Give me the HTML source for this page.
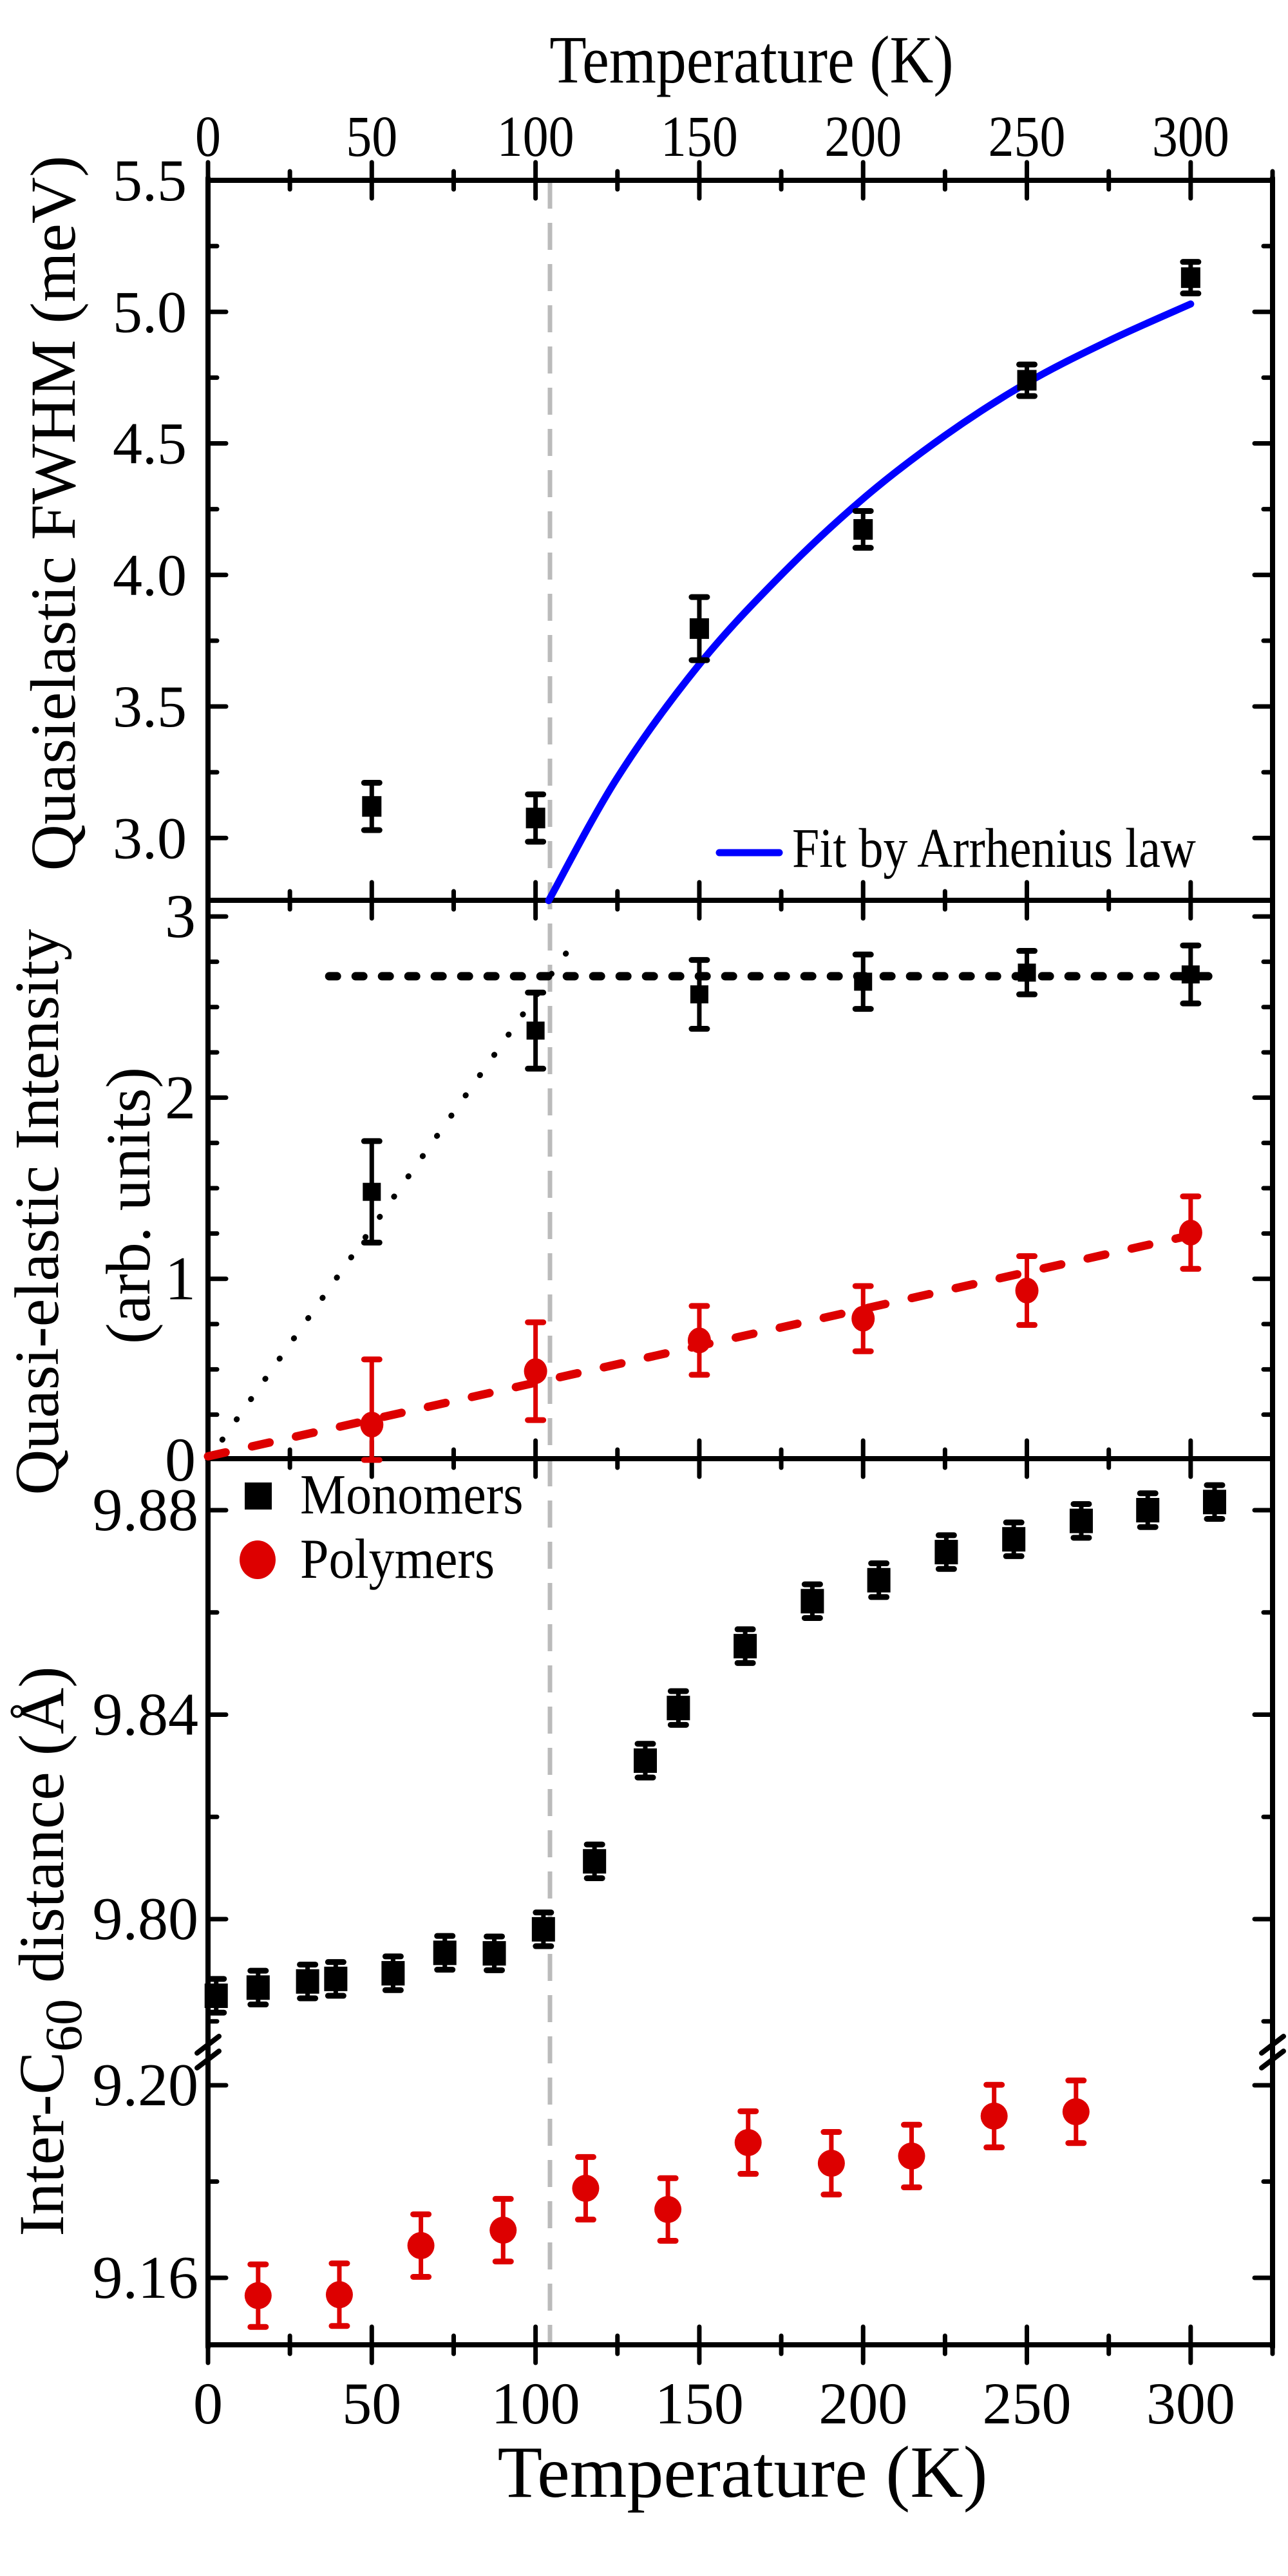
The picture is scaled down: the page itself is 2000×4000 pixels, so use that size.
<!DOCTYPE html>
<html><head><meta charset="utf-8"><style>
html,body{margin:0;padding:0;background:#fff;}
svg{display:block;}
text{font-family:"Liberation Serif","Times New Roman",serif;fill:#000;}
</style></head>
<body>
<svg id="chart" width="2000" height="4000" viewBox="0 0 2000 4000" font-family="Liberation Serif, serif" xmlns="http://www.w3.org/2000/svg"></svg>
<script>
// ---- data ----
const fwhmT = [50, 100, 150, 200, 250, 300];
const fwhmVal = [3.12, 3.076, 3.796, 4.173, 4.74, 5.13];
const fwhmErr = [0.09, 0.09, 0.12, 0.07, 0.06, 0.06];
const fitT = [104, 125, 150, 175, 200, 225, 250, 275, 300];
const fitVal = [2.762, 3.23, 3.66, 4.00, 4.29, 4.53, 4.73, 4.89, 5.03];
const qeT = [50, 100, 150, 200, 250, 300];
const qeMono = [1.48, 2.37, 2.57, 2.64, 2.69, 2.68];
const qeMonoErr = [0.28, 0.21, 0.19, 0.15, 0.12, 0.16];
const qePoly = [0.195, 0.49, 0.66, 0.78, 0.935, 1.255];
const qePolyErr = [0.36, 0.27, 0.19, 0.18, 0.19, 0.2];
const plateauLevel = 2.67, plateauT = [37, 306];
const riseLineT = [0, 111], riseLineV = [0, 2.84];
const polyLineT = [0, 300], polyLineV = [0.02, 1.24];
const monoT = [2.5, 15.3, 30.4, 39, 56.5, 72.3, 87.4, 102.4, 118, 133.5, 143.6, 164, 184.5, 204.8, 225.4, 246, 266.6, 286.9, 307.3];
const monoD = [9.785, 9.7866, 9.7878, 9.7883, 9.7894, 9.7934, 9.7933, 9.798, 9.8113, 9.831, 9.8413, 9.8534, 9.8622, 9.8663, 9.8718, 9.8743, 9.8779, 9.880, 9.8816];
const monoErr = 0.0033;
const polyT = [15.3, 40.1, 65, 90.1, 115.3, 140.4, 164.9, 190.3, 214.8, 240, 265];
const polyD = [9.1563, 9.1565, 9.1667, 9.1699, 9.1786, 9.1742, 9.1881, 9.1838, 9.1853, 9.1936, 9.1945];
const polyErr = 0.0065;
const xTicks = [0, 50, 100, 150, 200, 250, 300];
const y1Ticks = ["3.0", "3.5", "4.0", "4.5", "5.0", "5.5"];
const y2Ticks = ["0", "1", "2", "3"];
const y3UpTicks = ["9.80", "9.84", "9.88"];
const y3LoTicks = ["9.16", "9.20"];
const transitionT = 104.4;

// ---- geometry ----
const NS = "http://www.w3.org/2000/svg";
const svg = document.getElementById('chart');
const L = 323, R = 1976;
const X = t => L + t * (R - L) / 325;
const Y1 = v => 280 + (5.5 - v) * 408.5;
const Y2 = v => 2267 - v * 281.3;
const Y3u = v => 2345 + (9.88 - v) * 7937;
const Y3l = v => 3238 + (9.20 - v) * 7475;
function el(tag, attrs, parent) {
  const e = document.createElementNS(NS, tag);
  for (const k in attrs) e.setAttribute(k, attrs[k]);
  (parent || svg).appendChild(e);
  return e;
}
function txt(s, x, y, size, anchor, parent) {
  const t = el('text', {x: x, y: y, 'font-size': size, 'text-anchor': anchor || 'middle', 'font-family': 'Liberation Serif, Times New Roman, serif'}, parent);
  t.textContent = s;
  return t;
}
function line(x1, y1, x2, y2, w, col, parent) {
  return el('line', {x1: x1, y1: y1, x2: x2, y2: y2, stroke: col || '#000', 'stroke-width': w, 'stroke-linecap': 'round'}, parent);
}

// ---- dashed transition line ----
const vline = el('line', {x1: X(transitionT), y1: 282, x2: X(transitionT), y2: 3640, stroke: '#bbb', 'stroke-width': 7, 'stroke-dasharray': '42 22'});



// ---- axes ----
const gAx = el('g', {});


[280, 1398, 2265, 3641].forEach(yy => {
  for (let t = 0; t <= 325; t += 25) {
    const maj = t % 50 === 0;
    const h = maj ? 28 : 14;
    line(X(t), yy - h, X(t), yy + h, 7, '#000', gAx);
  }
});
for (let v = 2.75; v <= 5.5001; v += 0.25) {
  if (v < 2.77) continue;
  const maj = Math.abs(v * 2 - Math.round(v * 2)) < 1e-6;
  const len = maj ? 28 : 14;
  line(L, Y1(v), L + len, Y1(v), 7, '#000', gAx);
  line(R, Y1(v), R - len, Y1(v), 7, '#000', gAx);
}
for (let v = 0.25; v <= 3.0001; v += 0.25) {
  const maj = Math.abs(v - Math.round(v)) < 1e-6;
  const len = maj ? 28 : 14;
  line(L, Y2(v), L + len, Y2(v), 7, '#000', gAx);
  line(R, Y2(v), R - len, Y2(v), 7, '#000', gAx);
}
[9.78, 9.80, 9.82, 9.84, 9.86, 9.88].forEach((v, i) => {
  const len = (i % 2 === 1) ? 28 : 14;
  line(L, Y3u(v), L + len, Y3u(v), 7, '#000', gAx);
  line(R, Y3u(v), R - len, Y3u(v), 7, '#000', gAx);
});
[9.16, 9.18, 9.20].forEach((v, i) => {
  const len = (i % 2 === 0) ? 28 : 14;
  line(L, Y3l(v), L + len, Y3l(v), 7, '#000', gAx);
  line(R, Y3l(v), R - len, Y3l(v), 7, '#000', gAx);
});
[280, 1398, 2265, 3641].forEach(yy => line(L, yy, R, yy, 8, '#000', gAx));
line(L, 276, L, 3645, 8, '#000', gAx);
line(R, 276, R, 3645, 8, '#000', gAx);
[L, R].forEach(xx => {
  line(xx - 17, 3188, xx + 17, 3162, 8, '#000', gAx);
  line(xx - 17, 3211, xx + 17, 3185, 8, '#000', gAx);
});

// ---- tick labels ----
const gLab = el('g', {});


xTicks.forEach(t => {
  const a = txt(String(t), X(t), 242, 80, 'middle', gLab);
  a.setAttribute('transform', `translate(0,242) scale(1,1.12) translate(0,-242)`);
  txt(String(t), X(t), 3763, 92, 'middle', gLab);
});
y1Ticks.forEach(s => txt(s, 290, Y1(parseFloat(s)) + 31, 92, 'end', gLab));
y2Ticks.forEach(s => txt(s, 304, Y2(parseFloat(s)) + 32, 96, 'end', gLab));
y3UpTicks.forEach(s => txt(s, 308, Y3u(parseFloat(s)) + 31, 94, 'end', gLab));
y3LoTicks.forEach(s => txt(s, 308, Y3l(parseFloat(s)) + 31, 94, 'end', gLab));

// ---- axis titles ----
const tt = txt('Temperature (K)', 1167, 128, 94, 'middle');
tt.setAttribute('transform', 'translate(0,128) scale(1,1.12) translate(0,-128)');


const bt = txt('Temperature (K)', 1153, 3877, 114, 'middle');


const y1t = txt('Quasielastic FWHM (meV)', 0, 0, 100, 'middle');
y1t.setAttribute('transform', 'translate(116,797) rotate(-90)');


const y2t = txt('Quasi-elastic Intensity', 0, 0, 98, 'middle');
y2t.setAttribute('transform', 'translate(90,1882) rotate(-90)');


const y2t2 = txt('(arb. units)', 0, 0, 98, 'middle');
y2t2.setAttribute('transform', 'translate(232,1872) rotate(-90)');


const y3t = el('text', {'font-size': 100, 'text-anchor': 'middle', 'font-family': 'Liberation Serif, Times New Roman, serif', transform: 'translate(98,3030) rotate(-90)'});
y3t.innerHTML = 'Inter-C<tspan dy="28" font-size="82">60</tspan><tspan dy="-28"> distance (Å)</tspan>';



function errbar(x, y1, y2, col, g) {
  line(x, y1, x, y2, 7, col, g);
  line(x - 12, y1, x + 12, y1, 9, col, g);
  line(x - 12, y2, x + 12, y2, 9, col, g);
}
function smoothPath(pts) {
  let d = 'M' + pts[0][0] + ',' + pts[0][1];
  for (let i = 0; i < pts.length - 1; i++) {
    const p0 = pts[Math.max(0, i - 1)], p1 = pts[i], p2 = pts[i + 1], p3 = pts[Math.min(pts.length - 1, i + 2)];
    const c1 = [p1[0] + (p2[0] - p0[0]) / 6, p1[1] + (p2[1] - p0[1]) / 6];
    const c2 = [p2[0] - (p3[0] - p1[0]) / 6, p2[1] - (p3[1] - p1[1]) / 6];
    d += ' C' + c1.join(',') + ' ' + c2.join(',') + ' ' + p2.join(',');
  }
  return d;
}

// ---- panel 1 ----
const gFit = el('g', {});


el('path', {d: smoothPath(fitT.map((t, i) => [X(t), Y1(fitVal[i])])), fill: 'none', stroke: '#0000ff', 'stroke-width': 11, 'stroke-linecap': 'round', 'stroke-linejoin': 'round'}, gFit);
fwhmT.forEach((t, i) => {
  const g = el('g', {});
  
  
  errbar(X(t), Y1(fwhmVal[i] + fwhmErr[i]), Y1(fwhmVal[i] - fwhmErr[i]), '#000', g);
  el('rect', {x: X(t) - 15, y: Y1(fwhmVal[i]) - 16, width: 30, height: 32, fill: '#000'}, g);
});
const leg1 = el('g', {});


line(1117, 1324, 1210, 1324, 11, '#0000ff', leg1);
const lt = txt('Fit by Arrhenius law', 1230, 1346, 76, 'start', leg1);
lt.setAttribute('transform', 'translate(0,1346) scale(1,1.14) translate(0,-1346)');

// ---- panel 2 ----
const gl2 = el('g', {});


line(X(riseLineT[0]), Y2(riseLineV[0]), X(riseLineT[1]), Y2(riseLineV[1]), 9, '#000', gl2).setAttribute('stroke-dasharray', '0.5 38');
line(X(plateauT[0]), Y2(plateauLevel), X(plateauT[1]), Y2(plateauLevel), 13, '#000', gl2).setAttribute('stroke-dasharray', '12 29');
line(X(polyLineT[0]), Y2(polyLineV[0]), X(polyLineT[1]), Y2(polyLineV[1]), 13, '#dd0000', gl2).setAttribute('stroke-dasharray', '28 42');
qeT.forEach((t, i) => {
  const g = el('g', {});
  
  
  errbar(X(t), Y2(qeMono[i] + qeMonoErr[i]), Y2(qeMono[i] - qeMonoErr[i]), '#000', g);
  el('rect', {x: X(t) - 14, y: Y2(qeMono[i]) - 14, width: 28, height: 28, fill: '#000'}, g);
  const h = el('g', {});
  
  
  errbar(X(t), Y2(qePoly[i] + qePolyErr[i]), Y2(Math.max(0, qePoly[i] - qePolyErr[i])), '#dd0000', h);
  el('ellipse', {cx: X(t), cy: Y2(qePoly[i]), rx: 18, ry: 20, fill: '#dd0000'}, h);
});

// ---- panel 3 ----
monoT.forEach((t, i) => {
  const g = el('g', {});
  
  
  errbar(X(t), Y3u(monoD[i] + monoErr), Y3u(monoD[i] - monoErr), '#000', g);
  el('rect', {x: X(t) - 18, y: Y3u(monoD[i]) - 19, width: 36, height: 38, fill: '#000'}, g);
});
polyT.forEach((t, i) => {
  const g = el('g', {});
  
  
  errbar(X(t), Y3l(polyD[i] + polyErr), Y3l(polyD[i] - polyErr), '#dd0000', g);
  el('circle', {cx: X(t), cy: Y3l(polyD[i]), r: 21, fill: '#dd0000'}, g);
});
const leg3a = el('g', {});


el('rect', {x: 380, y: 2302, width: 42, height: 42, fill: '#000'}, leg3a);
txt('Monomers', 466, 2350, 80, 'start', leg3a).setAttribute('transform', 'translate(0,2350) scale(1,1.1) translate(0,-2350)');
const leg3b = el('g', {});


el('ellipse', {cx: 400, cy: 2422, rx: 28, ry: 30, fill: '#dd0000'}, leg3b);
txt('Polymers', 466, 2450, 80, 'start', leg3b).setAttribute('transform', 'translate(0,2450) scale(1,1.1) translate(0,-2450)');
</script>
</body></html>
